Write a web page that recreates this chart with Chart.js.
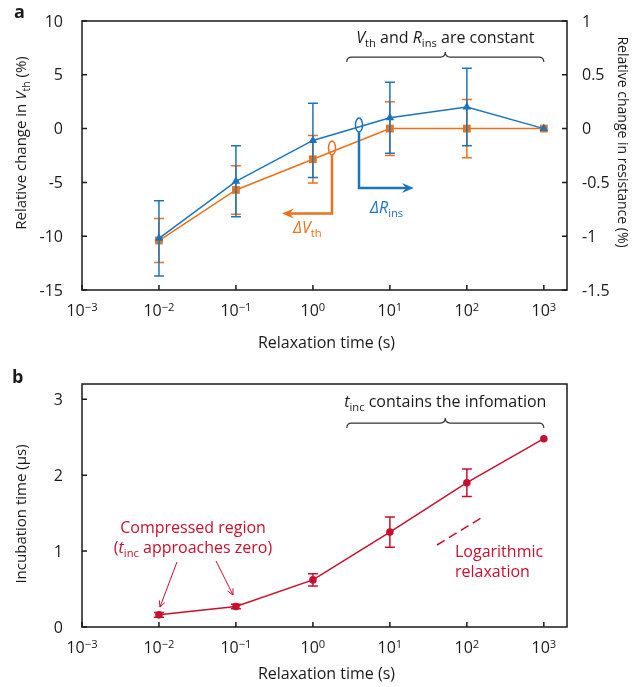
<!DOCTYPE html>
<html>
<head>
<meta charset="UTF-8">
<title>Relaxation</title>
<script src="https://cdn.jsdelivr.net/npm/chart.js@4.4.0/dist/chart.umd.min.js"></script>
<style>
    body { margin: 0; background: #fff; }
    #wrapA { position: absolute; left: 0; top: 0; width: 636px; height: 360px; }
    #wrapB { position: absolute; left: 0; top: 360px; width: 636px; height: 327px; }
</style>
</head>
<body>
<div id="wrapA"><canvas id="chartA" width="636" height="360"></canvas></div>
<div id="wrapB"><canvas id="chartB" width="636" height="327"></canvas></div>
<script>
    // data
    var relaxTime = [0.01, 0.1, 1, 10, 100, 1000];
    var dVth = [-10.4, -5.7, -2.85, 0, 0, 0];
    var dVthErr = [2.05, 2.25, 2.2, 2.5, 2.7, 0];
    var dRins = [-1.02, -0.49, -0.11, 0.10, 0.20, 0];
    var dRinsErr = [0.35, 0.33, 0.345, 0.33, 0.36, 0];
    var tInc = [0.16, 0.27, 0.62, 1.25, 1.9, 2.48];
    var tIncErr = [0.03, 0.03, 0.08, 0.2, 0.18, 0];

    var xTicks = [0.001, 0.01, 0.1, 1, 10, 100, 1000];
    var xTickExp = ['\u22123', '\u22122', '\u22121', '0', '1', '2', '3'];
    var leftTicks = [-15, -10, -5, 0, 5, 10];
    var rightTicks = [-1.5, -1, -0.5, 0, 0.5, 1];
    var bTicks = [0, 1, 2, 3];

    var FONT = '"Open Sans", "Noto Sans", sans-serif';
    var ORANGE = '#E9721B', BLUE = '#1B75BC', RED = '#C8102E', INK = '#1a1a1a';

    // text made of pieces: [text, style]  style = '' | 'i' | 'sub' | 'sup'
    function richText(ctx, parts, x, y, align, size) {
        var fontFor = function (p) {
            var s = (p[1] == 'sub' || p[1] == 'sup') ? size * 0.7 : size;
            return (p[1] == 'i' ? 'italic ' : '') + s + 'px ' + FONT;
        };
        var total = 0;
        parts.forEach(function (p) { ctx.font = fontFor(p); total += ctx.measureText(p[0]).width; });
        var cx = align == 'center' ? x - total / 2 : (align == 'right' ? x - total : x);
        ctx.textAlign = 'left';
        ctx.textBaseline = 'alphabetic';
        parts.forEach(function (p) {
            ctx.font = fontFor(p);
            var dy = p[1] == 'sub' ? size * 0.25 : (p[1] == 'sup' ? -size * 0.3 : 0);
            ctx.fillText(p[0], cx, y + dy);
            cx += ctx.measureText(p[0]).width;
        });
    }

    function rotText(ctx, parts, x, y, angle, size, color) {
        ctx.save();
        ctx.translate(x, y);
        ctx.rotate(angle);
        ctx.fillStyle = color;
        richText(ctx, parts, 0, size * 0.35, 'center', size);
        ctx.restore();
    }

    function errBars(chart, ys, errs, scaleId, color) {
        var ctx = chart.ctx, xs = chart.scales.x, sc = chart.scales[scaleId];
        ctx.save();
        ctx.strokeStyle = color;
        ctx.lineWidth = 1.5;
        ctx.beginPath();
        for (var i = 0; i < relaxTime.length; i++) {
            if (!errs[i]) continue;
            var px = xs.getPixelForValue(relaxTime[i]);
            var t = sc.getPixelForValue(ys[i] + errs[i]), b = sc.getPixelForValue(ys[i] - errs[i]);
            ctx.moveTo(px, t); ctx.lineTo(px, b);
            ctx.moveTo(px - 5, t); ctx.lineTo(px + 5, t);
            ctx.moveTo(px - 5, b); ctx.lineTo(px + 5, b);
        }
        ctx.stroke();
        ctx.restore();
    }

    function frame(chart, yId, yTicks, rightId, rTicks) {
        var ctx = chart.ctx, a = chart.chartArea, xs = chart.scales.x, ys = chart.scales[yId];
        ctx.save();
        ctx.strokeStyle = INK;
        ctx.lineWidth = 1.5;
        ctx.strokeRect(a.left, a.top, a.right - a.left, a.bottom - a.top);
        ctx.beginPath();
        xTicks.forEach(function (v) { var p = xs.getPixelForValue(v); ctx.moveTo(p, a.bottom); ctx.lineTo(p, a.bottom - 5); });
        yTicks.forEach(function (v) { var p = ys.getPixelForValue(v); ctx.moveTo(a.left, p); ctx.lineTo(a.left + 5, p); });
        if (rightId) {
            rTicks.forEach(function (v) { var p = chart.scales[rightId].getPixelForValue(v); ctx.moveTo(a.right, p); ctx.lineTo(a.right - 5, p); });
        }
        ctx.stroke();

        ctx.fillStyle = INK;
        ctx.font = '16px ' + FONT;
        ctx.textBaseline = 'middle';
        ctx.textAlign = 'right';
        yTicks.forEach(function (v) { ctx.fillText(String(v), a.left - 19, ys.getPixelForValue(v) + 1); });
        if (rightId) {
            ctx.textAlign = 'left';
            rTicks.forEach(function (v) { ctx.fillText(String(v), a.right + 15, chart.scales[rightId].getPixelForValue(v) + 1); });
        }
        xTicks.forEach(function (v, i) {
            richText(ctx, [['10', ''], [xTickExp[i], 'sup']], xs.getPixelForValue(v), a.bottom + 26, 'center', 16);
        });
        ctx.restore();
    }

    function brace(ctx, x1, x2, y, h) {
        var xm = (x1 + x2) / 2;
        ctx.beginPath();
        ctx.moveTo(x1, y + h);
        ctx.quadraticCurveTo(x1, y, x1 + h, y);
        ctx.lineTo(xm - h, y);
        ctx.quadraticCurveTo(xm, y, xm, y - h);
        ctx.quadraticCurveTo(xm, y, xm + h, y);
        ctx.lineTo(x2 - h, y);
        ctx.quadraticCurveTo(x2, y, x2, y + h);
        ctx.stroke();
    }

    // filled arrow head pointing along (dx,dy)
    function arrowHead(ctx, x, y, dx, dy, len, half) {
        var l = Math.sqrt(dx * dx + dy * dy); dx /= l; dy /= l;
        var bx = x - dx * len, by = y - dy * len;
        ctx.beginPath();
        ctx.moveTo(x, y);
        ctx.lineTo(bx - dy * half, by + dx * half);
        ctx.lineTo(x - dx * len * 0.65, y - dy * len * 0.65);
        ctx.lineTo(bx + dy * half, by - dx * half);
        ctx.closePath();
        ctx.fill();
    }

    var panelA = {
        id: 'panelA',
        beforeDatasetDraw: function (chart, args) {
            if (args.index == 1) errBars(chart, dVth, dVthErr, 'y', ORANGE);
            if (args.index == 0) errBars(chart, dRins, dRinsErr, 'y2', BLUE);
        },
        afterDraw: function (chart) {
            var ctx = chart.ctx, a = chart.chartArea, xs = chart.scales.x, ys = chart.scales.y;
            frame(chart, 'y', leftTicks, 'y2', rightTicks);
            var X = function (v) { return xs.getPixelForValue(v); };
            var Y = function (v) { return ys.getPixelForValue(v); };
            ctx.save();
            ctx.fillStyle = INK;
            ctx.font = 'bold 18px ' + FONT;
            ctx.textAlign = 'left';
            ctx.textBaseline = 'alphabetic';
            ctx.fillText('a', 14, 18);
            rotText(ctx, [['Relative change in ', ''], ['V', 'i'], ['th', 'sub'], [' (%)', '']], 21, 143, -Math.PI / 2, 15, INK);
            rotText(ctx, [['Relative change in resistance (%)', '']], 623, 142, Math.PI / 2, 14, INK);
            ctx.fillStyle = INK;
            richText(ctx, [['Relaxation time (s)', '']], (a.left + a.right) / 2 + 2, a.bottom + 58, 'center', 16);

            // bracket + note
            richText(ctx, [['V', 'i'], ['th', 'sub'], [' and ', ''], ['R', 'i'], ['ins', 'sub'], [' are constant', '']], X(52.5), Y(7.95), 'center', 16);
            ctx.strokeStyle = '#333';
            ctx.lineWidth = 1.2;
            brace(ctx, X(2.75), X(1000), Y(6.65), 5);

            // series pointers
            ctx.lineWidth = 1.5;
            ctx.strokeStyle = ORANGE;
            ctx.beginPath(); ctx.ellipse(X(1.77), Y(-1.8), 3.5, 7, 0, 0, Math.PI * 2); ctx.stroke();
            ctx.lineWidth = 2.5;
            ctx.beginPath();
            ctx.moveTo(X(1.77), Y(-1.8) + 7);
            ctx.lineTo(X(1.77), Y(-7.9));
            ctx.lineTo(X(0.396) + 6, Y(-7.9));
            ctx.stroke();
            ctx.fillStyle = ORANGE;
            arrowHead(ctx, X(0.396), Y(-7.9), -1, 0, 12, 5);
            richText(ctx, [['\u0394V', 'i'], ['th', 'sub']], X(0.55), Y(-9.7), 'left', 16);

            ctx.lineWidth = 1.5;
            ctx.strokeStyle = BLUE;
            ctx.beginPath(); ctx.ellipse(X(3.97), Y(0.33), 3.5, 7, 0, 0, Math.PI * 2); ctx.stroke();
            ctx.lineWidth = 2.5;
            ctx.beginPath();
            ctx.moveTo(X(3.97), Y(0.33) + 7);
            ctx.lineTo(X(3.97), Y(-5.52));
            ctx.lineTo(X(20.5) - 6, Y(-5.52));
            ctx.stroke();
            ctx.fillStyle = BLUE;
            arrowHead(ctx, X(20.5), Y(-5.52), 1, 0, 12, 5);
            richText(ctx, [['\u0394R', 'i'], ['ins', 'sub']], X(5.52), Y(-7.84), 'left', 16);
            ctx.restore();
        }
    };

    var panelB = {
        id: 'panelB',
        beforeDatasetDraw: function (chart, args) {
            errBars(chart, tInc, tIncErr, 'y', RED);
        },
        afterDraw: function (chart) {
            var ctx = chart.ctx, a = chart.chartArea, xs = chart.scales.x, ys = chart.scales.y;
            frame(chart, 'y', bTicks, null, null);
            var X = function (v) { return xs.getPixelForValue(v); };
            var Y = function (v) { return ys.getPixelForValue(v); };
            ctx.save();
            ctx.fillStyle = INK;
            ctx.font = 'bold 18px ' + FONT;
            ctx.textAlign = 'left';
            ctx.textBaseline = 'alphabetic';
            ctx.fillText('b', 12, 23);
            rotText(ctx, [['Incubation time (\u03bcs)', '']], 21, 154, -Math.PI / 2, 15, INK);
            ctx.fillStyle = INK;
            richText(ctx, [['Relaxation time (s)', '']], (a.left + a.right) / 2 + 2, a.bottom + 52, 'center', 16);

            richText(ctx, [['t', 'i'], ['inc', 'sub'], [' contains the infomation', '']], X(52.5), Y(2.897), 'center', 16);
            ctx.strokeStyle = '#333';
            ctx.lineWidth = 1.2;
            brace(ctx, X(2.75), X(1000), Y(2.686), 5);

            ctx.fillStyle = RED;
            richText(ctx, [['Compressed region', '']], X(0.0277), Y(1.238), 'center', 16);
            richText(ctx, [['(', ''], ['t', 'i'], ['inc', 'sub'], [' approaches zero)', '']], X(0.0277), Y(0.974), 'center', 16);
            richText(ctx, [['Logarithmic', '']], X(70.1), Y(0.922), 'left', 16);
            richText(ctx, [['relaxation', '']], X(70.1), Y(0.658), 'left', 16);

            ctx.strokeStyle = RED;
            ctx.lineWidth = 1;
            [[0.01714, 0.856, 0.0103, 0.263], [0.0551, 0.869, 0.0916, 0.421]].forEach(function (ar) {
                var x1 = X(ar[0]), y1 = Y(ar[1]), x2 = X(ar[2]), y2 = Y(ar[3]);
                var dx = x2 - x1, dy = y2 - y1, l = Math.sqrt(dx * dx + dy * dy);
                dx /= l; dy /= l;
                ctx.beginPath();
                ctx.moveTo(x1, y1); ctx.lineTo(x2, y2);
                ctx.moveTo(x2 - dx * 6 - dy * 3, y2 - dy * 6 + dx * 3);
                ctx.lineTo(x2, y2);
                ctx.lineTo(x2 - dx * 6 + dy * 3, y2 - dy * 6 - dx * 3);
                ctx.stroke();
            });
            ctx.lineWidth = 1.5;
            ctx.setLineDash([9, 5]);
            ctx.beginPath();
            ctx.moveTo(X(40.9), Y(1.08));
            ctx.lineTo(X(152.8), Y(1.435));
            ctx.stroke();
            ctx.restore();
        }
    };

    function pts(ys) {
        return relaxTime.map(function (t, i) { return { x: t, y: ys[i] }; });
    }

    new Chart(document.getElementById('chartA').getContext('2d'), {
        type: 'line',
        data: {
            datasets: [{
                label: 'dRins',
                data: pts(dRins),
                yAxisID: 'y2',
                borderColor: BLUE,
                backgroundColor: BLUE,
                borderWidth: 1.5,
                pointStyle: 'triangle',
                pointRadius: 5,
                pointBorderWidth: 0
            }, {
                label: 'dVth',
                data: pts(dVth),
                yAxisID: 'y',
                borderColor: ORANGE,
                backgroundColor: ORANGE,
                borderWidth: 1.5,
                pointStyle: 'rect',
                pointRadius: 5.5,
                pointBorderWidth: 0
            }]
        },
        options: {
            responsive: false,
            animation: false,
            layout: { autoPadding: false, padding: { left: 82, right: 69, top: 21, bottom: 70 } },
            plugins: { legend: { display: false }, tooltip: { enabled: false } },
            scales: {
                x: { type: 'logarithmic', min: 0.001, max: 2000, display: false },
                y: { min: -15, max: 10, display: false },
                y2: { min: -1.5, max: 1, display: false, position: 'right' }
            }
        },
        plugins: [panelA]
    });

    new Chart(document.getElementById('chartB').getContext('2d'), {
        type: 'line',
        data: {
            datasets: [{
                label: 'tinc',
                data: pts(tInc),
                borderColor: RED,
                backgroundColor: RED,
                borderWidth: 1.5,
                pointStyle: 'circle',
                pointRadius: 3.8,
                pointBorderWidth: 0
            }]
        },
        options: {
            responsive: false,
            animation: false,
            layout: { autoPadding: false, padding: { left: 82, right: 69, top: 24, bottom: 60 } },
            plugins: { legend: { display: false }, tooltip: { enabled: false } },
            scales: {
                x: { type: 'logarithmic', min: 0.001, max: 2000, display: false },
                y: { min: 0, max: 3.2, display: false }
            }
        },
        plugins: [panelB]
    });
</script>
</body>
</html>
